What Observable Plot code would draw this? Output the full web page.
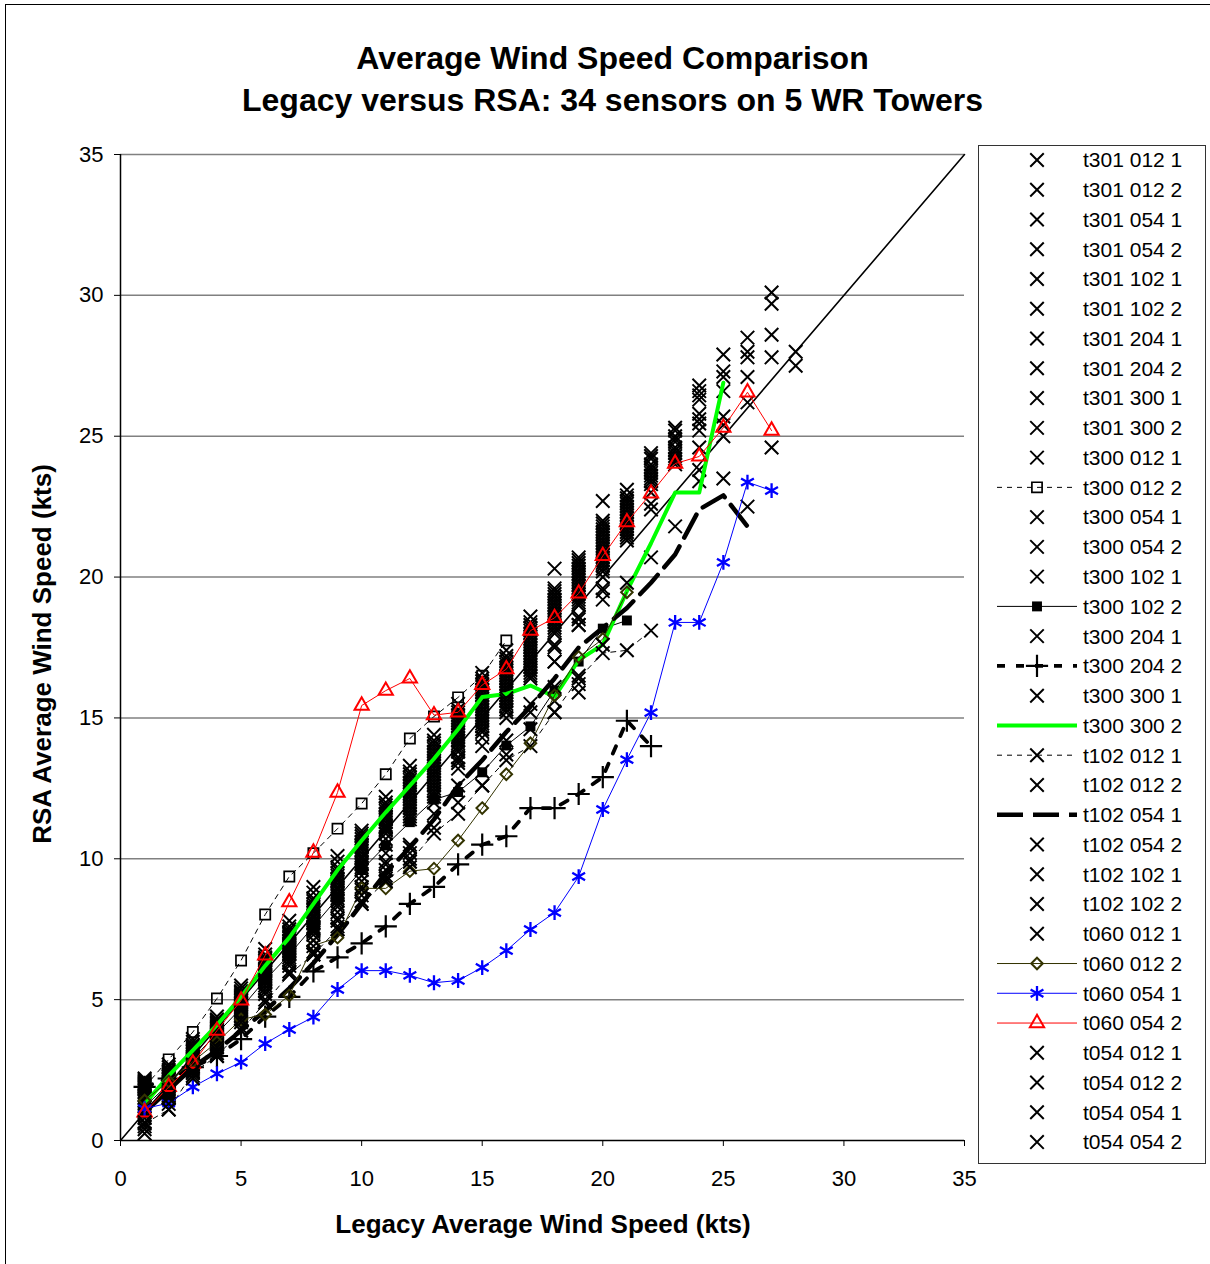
<!DOCTYPE html>
<html><head><meta charset="utf-8">
<script src="https://cdn.jsdelivr.net/npm/d3@7"></script>
<script src="https://cdn.jsdelivr.net/npm/@observablehq/plot@0.6"></script>
<style>
body{margin:0;background:#fff;font-family:Arial,"Liberation Sans",sans-serif;}
#wrap{position:relative;width:1210px;height:1264px;overflow:hidden;background:#fff;}
#border{position:absolute;left:5px;top:4px;width:1240px;height:1300px;border:1.5px solid #000;}
.t{position:absolute;white-space:nowrap;font-weight:bold;color:#000;}
#chart{position:absolute;left:0;top:0;}
#legend{position:absolute;left:978px;top:145px;}
</style></head>
<body>
<div id="wrap">
  <div id="border"></div>
  <div id="chart"></div>
  <div class="t" style="left:0;width:1225px;text-align:center;top:40px;font-size:32px;">Average Wind Speed Comparison</div>
  <div class="t" style="left:0;width:1225px;text-align:center;top:82px;font-size:32px;">Legacy versus RSA: 34 sensors on 5 WR Towers</div>
  <div class="t" style="left:0;width:1086px;text-align:center;top:1209px;font-size:26px;">Legacy Average Wind Speed (kts)</div>
  <div class="t" style="left:42px;top:654px;font-size:26px;transform:translate(-50%,-50%) rotate(-90deg);">RSA Average Wind Speed (kts)</div>
  <svg id="legend" width="229" height="1020"></svg>
</div>
<script>
// Legacy wind speed (x) for index 0,1,2,... of every series
const legacySpeed = [1,2,3,4,5,6,7,8,9,10,11,12,13,14,15,16,17,18,19,20,21,22,23,24,25,26,27,28];
const axisTicks = [0,5,10,15,20,25,30,35];
const gridTicks = [5,10,15,20,25,30,35];
const diagonal = [0,35];

// marker-only series (x markers)
const t301_012_1 = [2.2,2.7,3.6,4.4,5.5,6.8,7.8,9.0,10.1,11.0,12.2,13.3,14.4,15.5,16.6,17.4,18.6,20.3,20.7,22.7,23.1,24.4,25.3,26.8,27.9,28.5,30.1,28.0];
const t301_012_2 = [2.15,2.6,3.5,4.3,5.4,6.6,7.6,8.8,9.9,10.9,12.0,13.1,14.2,15.3,16.4,17.2,18.4,19.6,20.6,22.0,22.9,24.3,25.2,26.6,27.3,28.0,29.7,27.5];
const t301_054_1 = [2.1,2.5,3.4,4.25,5.3,6.5,7.5,8.6,9.7,10.8,11.9,13.0,14.1,15.2,16.3,17.1,18.3,19.5,20.5,21.9,22.8,24.2,25.0,26.45,27.1,27.8,28.6];
const t301_054_2 = [2.05,2.45,3.35,4.2,5.25,6.45,7.4,8.5,9.6,10.7,11.8,12.9,14.0,15.1,16.2,17.0,18.2,19.4,20.4,21.8,22.7,24.0,24.9,26.3,26.6,27.1,27.8];
const t301_102_1 = [2.0,2.4,3.3,4.15,5.2,6.4,7.35,8.4,9.5,10.6,11.7,12.8,13.9,15.0,16.1,16.9,18.1,19.3,20.3,21.7,22.6,23.9,24.8,25.8,25.7,26.2,24.6];
const t301_102_2 = [2.0,2.35,3.25,4.1,5.15,6.3,7.3,8.3,9.4,10.5,11.6,12.7,13.8,14.9,16.0,16.8,18.0,19.2,20.2,21.6,22.5,23.8,24.6,25.6,25.4,22.5];
const t301_204_1 = [1.95,2.3,3.2,4.05,5.1,6.25,7.25,8.25,9.3,10.45,11.5,12.6,13.7,14.8,15.9,16.7,17.9,19.1,20.1,21.5,22.4,23.7,24.5,25.45,25.0];
const t301_204_2 = [1.9,2.25,3.15,4.0,5.05,6.2,7.2,8.2,9.25,10.4,11.45,12.5,13.6,14.7,15.8,16.6,17.8,19.0,20.0,21.4,22.3,23.6,24.4,25.2,23.5];
const t301_300_1 = [1.9,2.2,3.1,3.95,5.0,6.1,7.1,8.1,9.2,10.3,11.4,12.4,13.5,14.6,15.7,16.5,17.7,18.9,19.9,21.3,22.2,23.5,24.3,24.6];
const t301_300_2 = [1.85,2.15,3.05,3.9,4.95,6.05,7.05,8.0,9.1,10.2,11.3,12.3,13.4,14.5,15.6,16.4,17.6,18.8,19.8,21.2,22.1,23.4,24.2,23.8];
const t300_012_1 = [1.8,2.1,3.0,3.85,4.9,6.0,7.0,7.95,9.0,10.1,11.2,12.2,13.3,14.4,15.5,16.3,17.5,18.7,19.7,21.1,22.0,23.3,24.1,23.4];
const t300_054_1 = [1.7,2.05,2.95,3.8,4.85,5.95,6.95,7.9,8.95,10.05,11.15,12.1,13.2,14.3,15.4,16.2,17.4,18.6,19.6,21.0,21.9,22.6,24.0];
const t300_054_2 = [1.6,2.0,2.9,3.75,4.8,5.9,6.9,7.8,8.9,10.0,11.1,12.0,13.1,14.2,15.3,16.1,17.3,18.5,19.5,20.9,21.8,22.4,21.8];
const t300_102_1 = [1.5,1.95,2.85,3.7,4.75,5.85,6.85,7.75,8.8,9.9,11.05,11.9,13.0,14.2,15.2,16.0,17.2,18.4,19.4,20.8,21.7,20.7];
const t300_204_1 = [1.4,1.9,2.8,3.65,4.7,5.8,6.8,7.7,8.75,9.85,11.0,11.8,12.9,14.1,15.1,15.9,17.1,18.3,19.3,20.7,21.6,23.0];
const t300_300_1 = [1.3,1.85,2.75,3.6,4.65,5.75,6.75,7.6,8.7,9.8,10.9,11.7,12.8,14.0,15.0,15.8,17.0,18.2,19.2,20.6,21.5];
const t102_012_2 = [1.2,1.8,2.7,3.55,4.6,5.7,6.7,7.55,8.6,9.7,10.7,11.6,12.7,13.9,14.9,15.7,16.9,18.1,19.1,20.5,21.4];
const t102_054_2 = [1.1,1.75,2.65,3.5,4.55,5.65,6.65,7.5,8.5,9.6,10.5,11.5,12.6,13.8,14.8,15.6,16.8,18.0,19.0,20.4,21.3];
const t102_102_1 = [1.0,1.7,2.6,3.45,4.5,5.6,6.6,7.45,8.4,9.4,10.2,11.4,12.5,13.6,14.7,15.5,16.7,17.0,18.3,20.3,19.8];
const t102_102_2 = [0.9,1.65,2.55,3.4,4.45,5.5,6.5,7.4,8.3,9.2,9.9,10.5,12.0,12.6,13.1,15.0,15.5,16.1,16.5,20.2];
const t060_012_1 = [0.8,1.6,2.5,3.35,4.4,5.4,6.4,7.3,8.1,9.0,9.8,10.4,11.6,12.0,12.6,14.2,15.2,15.6,16.2,20.0];
const t054_012_1 = [0.65,1.55,2.45,3.3,4.3,5.3,6.3,7.1,7.9,8.9,9.6,10.2,11.1,13.6,14.5,13.7,14.6,15.2,15.9,19.2];
const t054_012_2 = [0.5,1.5,2.4,3.2,4.2,5.2,6.2,6.9,7.8,8.7,9.4,10.0,12.2,13.2,14.0,15.2,16.4,17.0,18.3,17.6];
const t054_054_1 = [0.4,1.3,2.3,3.1,4.0,5.0,6.0,6.7,7.6,8.5,9.3,9.9,12.4,13.4,14.3,15.3,16.5,17.5,18.6,19.5];
const t054_054_2 = [0.25,1.1,2.2,3.0,3.9,4.9,5.9,6.6,7.5,8.4,9.2,9.7,12.3,13.5,14.6,15.4,16.6,17.6,18.5,19.6];

// series drawn with lines
const t300_012_2 = [1.9,2.88,3.85,5.04,6.39,8.02,9.37,10.2,11.07,11.96,13.0,14.27,15.05,15.73,16.5,17.75];
const t300_102_2 = [1.2,2.0,2.9,3.8,4.7,5.7,6.6,7.6,8.6,9.6,10.47,11.3,12.1,12.37,13.07,14.02,14.7,15.97,17.0,18.17,18.46];
const t300_204_2 = [1.9,2.2,2.6,3.0,3.6,4.4,5.1,6.0,6.5,7.0,7.6,8.4,9.0,9.8,10.5,10.8,11.8,11.8,12.3,12.9,14.9,14.0];
const t300_300_2 = [1.3,2.3,3.2,4.1,5.1,6.2,7.2,8.4,9.6,10.65,11.65,12.6,13.55,14.6,15.74,15.85,16.15,15.75,17.05,17.6,19.5,21.2,23.0,23.0,26.9];
const t102_012_1 = [0.6,1.1,2.4,3.0,3.9,4.9,5.9,6.6,7.5,8.4,9.2,9.9,10.9,11.6,12.6,13.5,14.0,15.2,16.4,17.3,17.4,18.1];
const t102_054_1 = [1.0,1.8,2.6,3.2,3.9,4.6,5.4,6.3,7.3,8.4,9.5,10.4,11.4,12.6,13.5,14.5,15.4,16.4,17.5,18.2,18.9,19.8,20.8,22.4,22.9,21.8];
const t060_012_2 = [1.42,2.1,2.8,3.49,4.3,4.47,5.15,6.92,7.2,8.95,8.95,9.56,9.65,10.65,11.8,13.0,14.1,15.8,17.16,17.8,19.46];
const t060_054_1 = [1.13,1.33,1.9,2.37,2.78,3.44,3.94,4.38,5.36,6.03,6.03,5.86,5.6,5.68,6.14,6.74,7.49,8.09,9.37,11.75,13.52,15.19,18.39,18.39,20.52,23.37,23.07];
const t060_054_2 = [1.0,1.9,2.73,3.9,4.97,6.57,8.46,10.22,12.35,15.44,15.97,16.4,15.1,15.2,16.17,16.73,18.1,18.55,19.42,20.75,21.95,22.97,24.03,24.28,25.3,26.56,25.2];

const seriesNames = ["t301 012 1","t301 012 2","t301 054 1","t301 054 2","t301 102 1","t301 102 2","t301 204 1","t301 204 2","t301 300 1","t301 300 2","t300 012 1","t300 012 2","t300 054 1","t300 054 2","t300 102 1","t300 102 2","t300 204 1","t300 204 2","t300 300 1","t300 300 2","t102 012 1","t102 012 2","t102 054 1","t102 054 2","t102 102 1","t102 102 2","t060 012 1","t060 012 2","t060 054 1","t060 054 2","t054 012 1","t054 012 2","t054 054 1","t054 054 2"];
const seriesValues = [t301_012_1,t301_012_2,t301_054_1,t301_054_2,t301_102_1,t301_102_2,t301_204_1,t301_204_2,t301_300_1,t301_300_2,t300_012_1,t300_012_2,t300_054_1,t300_054_2,t300_102_1,t300_102_2,t300_204_1,t300_204_2,t300_300_1,t300_300_2,t102_012_1,t102_012_2,t102_054_1,t102_054_2,t102_102_1,t102_102_2,t060_012_1,t060_012_2,t060_054_1,t060_054_2,t054_012_1,t054_012_2,t054_054_1,t054_054_2];

// styles
const defaultStyle = {line:null, symbol:"times", r:6.2, fill:"none", mstroke:"#000", msw:2};
const specialStyles = {
  "t300 012 2": {line:{stroke:"#000", w:1, dash:"5,5"}, symbol:"square2", r:6.5, fill:"none", mstroke:"#000", msw:1.7},
  "t300 102 2": {line:{stroke:"#000", w:1, dash:null}, symbol:"square", r:5.6, fill:"#000", mstroke:"none", msw:0},
  "t300 204 2": {line:{stroke:"#000", w:3.8, dash:"8,11"}, symbol:"plus", r:7.2, fill:"none", mstroke:"#000", msw:2.2},
  "t300 300 2": {line:{stroke:"#00ff00", w:4, dash:null}, symbol:null},
  "t102 012 1": {line:{stroke:"#000", w:1, dash:"5,5"}, symbol:"times", r:6.2, fill:"none", mstroke:"#000", msw:2},
  "t102 054 1": {line:{stroke:"#000", w:4.5, dash:"26,10"}, symbol:null},
  "t060 012 2": {line:{stroke:"#333300", w:1, dash:null}, symbol:"diamond2", r:5.2, fill:"none", mstroke:"#333300", msw:2},
  "t060 054 1": {line:{stroke:"#0000ff", w:1, dash:null}, symbol:"asterisk", r:7, fill:"none", mstroke:"#0000ff", msw:2.3},
  "t060 054 2": {line:{stroke:"#ff0000", w:1, dash:null}, symbol:"triangle2", r:6.8, fill:"none", mstroke:"#ff0000", msw:2}
};
const styleOf = n => specialStyles[n] || defaultStyle;

const rows = vals => vals.map((y, i) => ({x: legacySpeed[i], y}));

const marks = [
  Plot.ruleY(gridTicks, {stroke:"#808080", strokeWidth:1.5}),
  Plot.ruleX([0], {stroke:"#000", strokeWidth:1.5}),
  Plot.ruleY([0], {stroke:"#000", strokeWidth:1.5}),
  Plot.axisX({ticks: axisTicks, tickSize: 6, tickPadding: 24, tickFormat: d => String(d), label: null}),
  Plot.axisY({ticks: axisTicks, tickSize: 6, tickPadding: 11, tickFormat: d => String(d), label: null}),
  Plot.line(diagonal, {x: d => d, y: d => d, stroke:"#000", strokeWidth:1.6})
];
seriesNames.forEach((name, k) => {
  const s = styleOf(name);
  const data = rows(seriesValues[k]);
  if (s.line) {
    marks.push(Plot.line(data, {x:"x", y:"y", stroke:s.line.stroke, strokeWidth:s.line.w, strokeDasharray:s.line.dash || undefined}));
  }
  if (s.symbol) {
    marks.push(Plot.dot(data, {x:"x", y:"y", symbol:s.symbol, r:s.r, fill:s.fill, stroke:s.mstroke, strokeWidth:s.msw}));
  }
});

const chart = Plot.plot({
  width: 1210, height: 1264,
  marginLeft: 120, marginRight: 246, marginTop: 154, marginBottom: 124,
  x: {domain:[0,35]},
  y: {domain:[0,35]},
  style: {fontFamily: "Arial, 'Liberation Sans', sans-serif", fontSize: "22px", color: "#000", background: "transparent"},
  marks
});
document.getElementById("chart").appendChild(chart);

// legend
const symMap = {times:d3.symbolTimes, square2:d3.symbolSquare2, square:d3.symbolSquare, plus:d3.symbolPlus, diamond2:d3.symbolDiamond2, asterisk:d3.symbolAsterisk, triangle2:d3.symbolTriangle2};
const lg = d3.select("#legend");
lg.append("rect").attr("x",0.5).attr("y",0.5).attr("width",227).attr("height",1018).attr("fill","#fff").attr("stroke","#333").attr("stroke-width",1);
seriesNames.forEach((name, i) => {
  const s = styleOf(name);
  const cy = 15 + i * 29.76;
  if (s.line) {
    lg.append("line").attr("x1",19).attr("x2",99).attr("y1",cy).attr("y2",cy)
      .attr("stroke",s.line.stroke).attr("stroke-width",s.line.w)
      .attr("stroke-dasharray", s.line.dash || null);
  }
  if (s.symbol) {
    lg.append("path").attr("transform",`translate(59,${cy})`)
      .attr("d", d3.symbol(symMap[s.symbol], Math.PI * s.r * s.r)())
      .attr("fill", s.fill).attr("stroke", s.mstroke).attr("stroke-width", s.msw);
  }
  lg.append("text").attr("x",105).attr("y",cy).attr("dy","0.35em")
    .attr("font-family","Arial, 'Liberation Sans', sans-serif").attr("font-size",21).attr("fill","#000").text(name);
});
</script>
</body></html>
